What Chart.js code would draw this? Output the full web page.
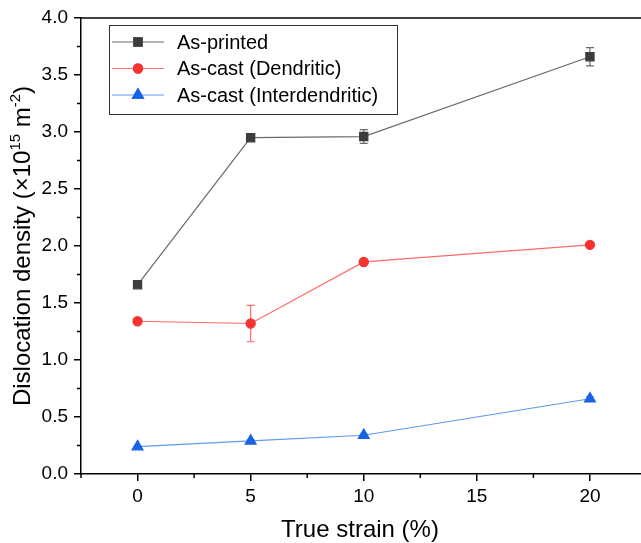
<!DOCTYPE html>
<html lang="en">
<head>
<meta charset="UTF-8">
<title>Dislocation density vs true strain</title>
<script src="https://cdn.jsdelivr.net/npm/chart.js"></script>
<style>
    html, body { margin: 0; padding: 0; background: #fff; overflow: hidden; }
    #wrap { width: 641px; height: 543px; overflow: hidden; }
</style>
</head>
<body>
<div id="wrap"><canvas id="densityChart" width="654" height="543"></canvas></div>
<script>
    // values
    const strain = [0, 5, 10, 20];
    const xTicks = [0, 5, 10, 15, 20];
    const yTicks = [0, 0.5, 1, 1.5, 2, 2.5, 3, 3.5, 4];

    const printed = [1.66, 2.95, 2.96, 3.66];
    const printedErr = [0.02, 0.02, 0.06, 0.08];

    const dendritic = [1.34, 1.32, 1.86, 2.01];
    const dendriticErr = [0.01, 0.16, 0.01, 0.01];

    const interdendritic = [0.24, 0.29, 0.34, 0.66];
    const interdendriticErr = [0.01, 0.01, 0.01, 0.02];

    const labels = ['As-printed', 'As-cast (Dendritic)', 'As-cast (Interdendritic)'];
    const errors = [printedErr, dendriticErr, interdendriticErr];

    const FONT = 'Liberation Sans, Arial, sans-serif';

    function toPoints(vals) {
        return strain.map((x, i) => ({x: x, y: vals[i]}));
    }

    // error bars, minor ticks, top border, titles and legend
    const extras = {
        id: 'extras',
        beforeDatasetsDraw(chart) {
            const ctx = chart.ctx;
            const xs = chart.scales.x, ys = chart.scales.y;
            ctx.save();
            chart.data.datasets.forEach((ds, d) => {
                ctx.strokeStyle = ds.borderColor;
                ctx.lineWidth = 1.2;
                ds.data.forEach((p, i) => {
                    const e = errors[d][i];
                    const px = xs.getPixelForValue(p.x);
                    const top = ys.getPixelForValue(p.y + e);
                    const bot = ys.getPixelForValue(p.y - e);
                    ctx.beginPath();
                    ctx.moveTo(px, top); ctx.lineTo(px, bot);
                    ctx.moveTo(px - 4, top); ctx.lineTo(px + 4, top);
                    ctx.moveTo(px - 4, bot); ctx.lineTo(px + 4, bot);
                    ctx.stroke();
                });
            });
            ctx.restore();
        },
        afterDraw(chart) {
            const ctx = chart.ctx;
            const area = chart.chartArea;
            const xs = chart.scales.x, ys = chart.scales.y;
            ctx.save();
            ctx.strokeStyle = '#000';
            ctx.lineWidth = 1.5;

            // top border
            ctx.beginPath();
            ctx.moveTo(area.left, area.top);
            ctx.lineTo(area.right, area.top);
            ctx.stroke();

            // minor ticks
            ctx.beginPath();
            [-2.5, 2.5, 7.5, 12.5, 17.5].forEach(v => {
                const px = xs.getPixelForValue(v);
                ctx.moveTo(px, area.bottom); ctx.lineTo(px, area.bottom + 4);
            });
            for (let v = 0.25; v < 4; v += 0.5) {
                const py = ys.getPixelForValue(v);
                ctx.moveTo(area.left, py); ctx.lineTo(area.left - 4, py);
            }
            ctx.stroke();

            // axis titles
            ctx.fillStyle = '#000';
            ctx.textBaseline = 'alphabetic';
            ctx.font = '24px ' + FONT;
            ctx.textAlign = 'center';
            ctx.fillText('True strain (%)', (area.left + 641) / 2 - 1, 537);

            ctx.translate(30, (area.top + area.bottom) / 2);
            ctx.rotate(-Math.PI / 2);
            const parts = [
                ['Dislocation density (\u00d710', 24, 0],
                ['15', 15, -10],
                [' m', 24, 0],
                ['-2', 15, -10],
                [')', 24, 0]
            ];
            let total = 0;
            parts.forEach(p => { ctx.font = p[1] + 'px ' + FONT; total += ctx.measureText(p[0]).width; });
            let cx = -total / 2;
            ctx.textAlign = 'left';
            parts.forEach(p => {
                ctx.font = p[1] + 'px ' + FONT;
                ctx.fillText(p[0], cx, p[2]);
                cx += ctx.measureText(p[0]).width;
            });
            ctx.restore();

            // legend
            ctx.save();
            ctx.strokeStyle = '#333';
            ctx.lineWidth = 1;
            ctx.strokeRect(109.5, 25.5, 288, 89);
            ctx.font = '20px ' + FONT;
            ctx.textBaseline = 'middle';
            ctx.textAlign = 'left';
            chart.data.datasets.forEach((ds, d) => {
                const y = 42 + d * 26.5;
                ctx.strokeStyle = ds.borderColor;
                ctx.lineWidth = 1.2;
                ctx.beginPath();
                ctx.moveTo(112, y); ctx.lineTo(164, y);
                ctx.stroke();
                Chart.helpers.drawPoint(ctx, {
                    pointStyle: ds.pointStyle,
                    radius: ds.pointRadius,
                    borderWidth: 1
                }, 138, y);
                ctx.fillStyle = ds.pointBackgroundColor;
                ctx.strokeStyle = ds.pointBorderColor;
                ctx.fill();
                ctx.stroke();
                ctx.fillStyle = '#000';
                ctx.fillText(labels[d], 177, y + 1);
            });
            ctx.restore();
        }
    };

    new Chart(document.getElementById('densityChart'), {
        type: 'line',
        data: {
            datasets: [
                {
                    label: labels[0],
                    data: toPoints(printed),
                    borderColor: '#6a6a6a',
                    borderWidth: 1.2,
                    pointStyle: 'rect',
                    pointRadius: 5.8,
                    pointBackgroundColor: '#3c3c3c',
                    pointBorderColor: '#3c3c3c',
                    tension: 0
                },
                {
                    label: labels[1],
                    data: toPoints(dendritic),
                    borderColor: '#ff6a6a',
                    borderWidth: 1.2,
                    pointStyle: 'circle',
                    pointRadius: 4.6,
                    pointBackgroundColor: '#f53333',
                    pointBorderColor: '#f53333',
                    tension: 0
                },
                {
                    label: labels[2],
                    data: toPoints(interdendritic),
                    borderColor: '#5e9bf0',
                    borderWidth: 1.2,
                    pointStyle: 'triangle',
                    pointRadius: 6.3,
                    pointBackgroundColor: '#1763e4',
                    pointBorderColor: '#1763e4',
                    tension: 0
                }
            ]
        },
        options: {
            responsive: false,
            animation: false,
            layout: { padding: { top: 18, right: 4, left: 0, bottom: 0 } },
            plugins: { legend: { display: false }, tooltip: { enabled: false } },
            scales: {
                x: {
                    type: 'linear',
                    min: -2.5,
                    max: 22.5,
                    afterBuildTicks: s => { s.ticks = xTicks.map(v => ({value: v})); },
                    afterFit: s => { s.height = 69; },
                    grid: { display: true, drawOnChartArea: false, drawTicks: true, tickLength: 7, color: '#000', lineWidth: 1.5 },
                    border: { display: true, color: '#000', width: 1.5 },
                    ticks: { color: '#000', font: { family: FONT, size: 19 }, padding: 4, maxRotation: 0 },
                    title: { display: false }
                },
                y: {
                    min: 0,
                    max: 4,
                    afterBuildTicks: s => { s.ticks = yTicks.map(v => ({value: v})); },
                    afterFit: s => { s.width = 81; },
                    grid: { display: true, drawOnChartArea: false, drawTicks: true, tickLength: 7, color: '#000', lineWidth: 1.5 },
                    border: { display: true, color: '#000', width: 1.5 },
                    ticks: { color: '#000', font: { family: FONT, size: 19 }, padding: 6, callback: v => v.toFixed(1) },
                    title: { display: false }
                }
            }
        },
        plugins: [extras]
    });
</script>
</body>
</html>
